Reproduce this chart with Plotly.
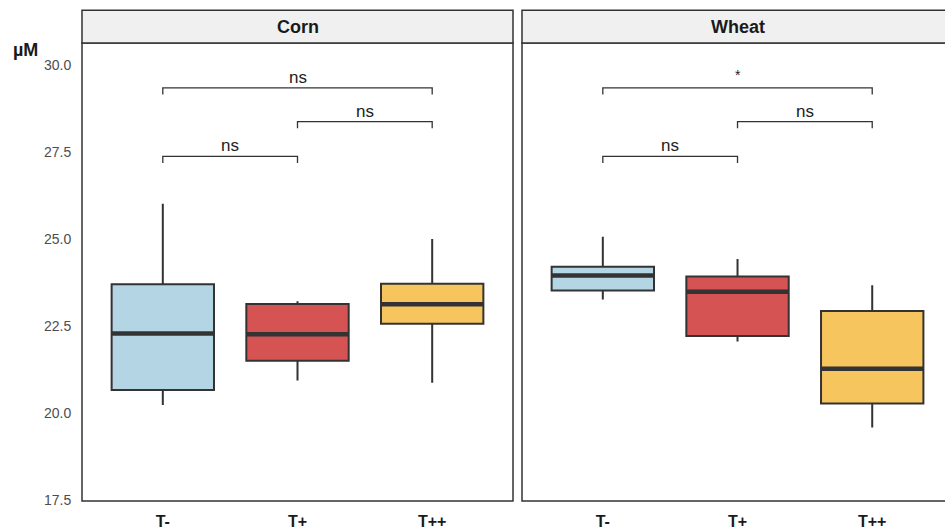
import plotly.graph_objects as go

# Treatment groups and their fill colours
groups = ["T-", "T+", "T++"]
colors = ["#B3D5E4", "#D55353", "#F7C55E"]
facets = ["Corn", "Wheat"]

# Box statistics (µM) per facet, in the order of `groups`
stats = {
    "Corn": {
        "lower": [20.23, 20.93, 20.87],
        "q1": [20.66, 21.50, 22.56],
        "median": [22.28, 22.26, 23.12],
        "q3": [23.70, 23.13, 23.71],
        "upper": [26.01, 23.21, 25.00],
    },
    "Wheat": {
        "lower": [23.26, 22.05, 19.58],
        "q1": [23.52, 22.21, 20.27],
        "median": [23.95, 23.48, 21.27],
        "q3": [24.20, 23.92, 22.93],
        "upper": [25.06, 24.42, 23.67],
    },
}

# Pairwise comparisons: (group a, group b, bracket height, label)
comparisons = {
    "Corn": [("T-", "T+", 27.37, "ns"), ("T+", "T++", 28.37, "ns"), ("T-", "T++", 29.34, "ns")],
    "Wheat": [("T-", "T+", 27.37, "ns"), ("T+", "T++", 28.37, "ns"), ("T-", "T++", 29.34, "*")],
}

y_ticks = [17.5, 20.0, 22.5, 25.0, 27.5, 30.0]
y_range = [17.47, 30.63]

W, H = 945, 530
ML, MT, MB = 0, 43, 25
plot_h = H - MT - MB
domains = {"Corn": [82 / W, 513 / W], "Wheat": [522 / W, 1.0]}
x_ranges = {"Corn": [0.4, 3.6], "Wheat": [0.4, 0.4 + 423 / 134.7]}
axis_ids = {"Corn": ("x", "xaxis"), "Wheat": ("x2", "xaxis2")}

FONT = "Liberation Sans, Arial, sans-serif"
DARK = "#333333"

fig = go.Figure()

for facet in facets:
    xref, _ = axis_ids[facet]
    s = stats[facet]
    for i, g in enumerate(groups):
        pos = i + 1
        fig.add_trace(go.Box(
            x=[pos], q1=[s["q1"][i]], median=[s["median"][i]], q3=[s["q3"][i]],
            lowerfence=[s["lower"][i]], upperfence=[s["upper"][i]],
            width=0.76, whiskerwidth=0, fillcolor=colors[i],
            line=dict(color=DARK, width=2), boxpoints=False,
            xaxis=xref, yaxis="y", showlegend=False, hoverinfo="skip",
        ))
        # thick median bar
        fig.add_trace(go.Scatter(
            x=[pos - 0.38, pos + 0.38], y=[s["median"][i]] * 2, mode="lines",
            line=dict(color=DARK, width=4.5), xaxis=xref, yaxis="y",
            showlegend=False, hoverinfo="skip",
        ))
    # significance brackets
    for a, b, h, lab in comparisons[facet]:
        xa, xb = groups.index(a) + 1, groups.index(b) + 1
        tick = 0.19
        fig.add_trace(go.Scatter(
            x=[xa, xa, xb, xb], y=[h - tick, h, h, h - tick], mode="lines",
            line=dict(color=DARK, width=1.3), xaxis=xref, yaxis="y",
            showlegend=False, hoverinfo="skip",
        ))
        fig.add_annotation(
            x=(xa + xb) / 2, y=h, xref=xref, yref="y", text=lab, showarrow=False,
            xanchor="center", yanchor="bottom", yshift=-1 if lab != "*" else 3,
            font=dict(family=FONT, size=17 if lab != "*" else 14, color="#222222"),
        )

# panel borders and strips
strip_top = 1 + (MT - 10) / plot_h
for facet in facets:
    x0, x1 = domains[facet]
    if facet == "Wheat":
        x1 = 1.02
    fig.add_shape(type="rect", xref="paper", yref="paper", x0=x0, x1=x1, y0=0, y1=1,
                  line=dict(color=DARK, width=1.5), fillcolor="rgba(0,0,0,0)", layer="above")
    fig.add_shape(type="rect", xref="paper", yref="paper", x0=x0, x1=x1, y0=1, y1=strip_top,
                  line=dict(color=DARK, width=1.5), fillcolor="#F0F0F0", layer="above")
    cx = domains[facet][0] + 431 / W / 2
    fig.add_annotation(x=cx, y=(1 + strip_top) / 2, xref="paper", yref="paper",
                       text=f"<b>{facet}</b>", showarrow=False,
                       xanchor="center", yanchor="middle",
                       font=dict(family=FONT, size=18, color="#1A1A1A"))

fig.add_annotation(x=25 / W, y=1 - (50 - MT) / plot_h, xref="paper", yref="paper",
                   text="<b>µM</b>", showarrow=False, xanchor="center", yanchor="middle",
                   font=dict(family=FONT, size=18, color="#1A1A1A"))

xaxis_common = dict(
    tickvals=[1, 2, 3], ticktext=groups, showgrid=False, zeroline=False,
    showline=False, ticks="outside", ticklen=6, tickcolor="rgba(0,0,0,0)",
    tickfont=dict(family=FONT, size=16, color="#1A1A1A", weight="bold"),
    fixedrange=True,
)

fig.update_layout(
    width=W, height=H,
    margin=dict(l=ML, r=0, t=MT, b=MB),
    paper_bgcolor="white", plot_bgcolor="white",
    xaxis=dict(domain=domains["Corn"], range=x_ranges["Corn"], anchor="y", **xaxis_common),
    xaxis2=dict(domain=domains["Wheat"], range=x_ranges["Wheat"], anchor="y", **xaxis_common),
    yaxis=dict(
        domain=[0, 1], range=y_range, tickvals=y_ticks,
        ticktext=[f"{v:.1f}" for v in y_ticks], showgrid=False, zeroline=False,
        showline=False, ticks="outside", ticklen=8, tickcolor="rgba(0,0,0,0)",
        tickfont=dict(family=FONT, size=14, color="#4D4D4D"),
        anchor="free", position=domains["Corn"][0],
    ),
    showlegend=False,
)

fig.write_html("out.html")
